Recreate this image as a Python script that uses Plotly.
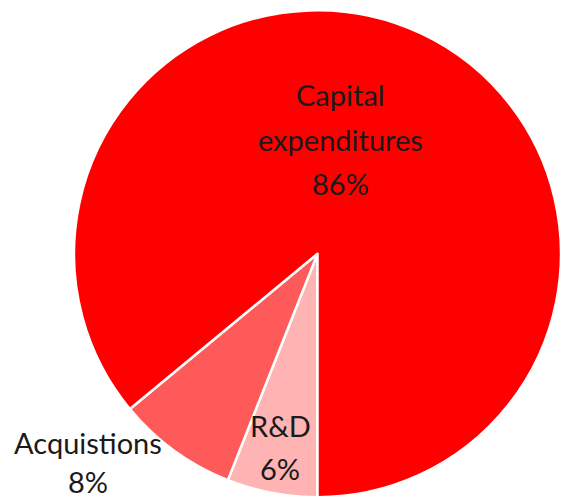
import plotly.graph_objects as go

# Spending breakdown (share of total, %)
categories = ["R&D", "Acquistions", "Capital expenditures"]
values = [6, 8, 86]
colors = ["#FFB3B3", "#FF5A5A", "#FF0000"]

W, H = 561, 500

fig = go.Figure(go.Pie(
    labels=categories,
    values=values,
    sort=False,
    direction="clockwise",
    rotation=180,
    marker=dict(colors=colors, line=dict(color="white", width=2.5)),
    textinfo="none",
    hoverinfo="label+percent",
    showlegend=False,
    domain=dict(x=[74 / W, 1], y=[0, 0.985]),
))

# Slice labels: name lines followed by the percentage (x, first-line y, line gap)
label_pos = {
    "Capital expenditures": (340, 95, 44),
    "R&D": (280, 425, 43),
    "Acquistions": (88, 442, 39),
}
label_lines = {
    "Capital expenditures": ["Capital", "expenditures"],
    "R&D": ["R&D"],
    "Acquistions": ["Acquistions"],
}
for cat, val in zip(categories, values):
    x, y, gap = label_pos[cat]
    lines = label_lines[cat] + [f"{val}%"]
    for i, txt in enumerate(lines):
        fig.add_annotation(
            x=x / W, y=1 - (y + i * gap) / H,
            xref="paper", yref="paper",
            text=txt, showarrow=False,
            xanchor="center", yanchor="middle",
            font=dict(family="Lato, Open Sans, sans-serif", size=29, color="#1a1a1a"),
        )

fig.update_layout(
    width=W, height=H,
    margin=dict(l=0, r=0, t=0, b=0),
    paper_bgcolor="white",
    plot_bgcolor="white",
)

fig.write_html("out.html")
